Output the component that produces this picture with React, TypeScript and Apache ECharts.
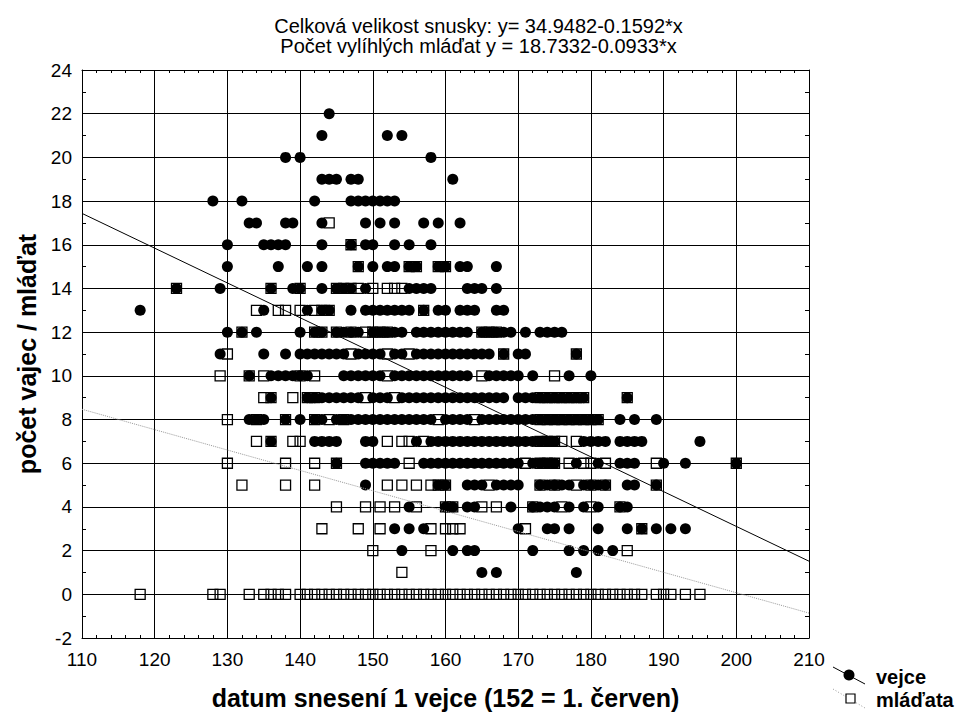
import React, { useEffect, useRef } from "react";
import * as echarts from "echarts";

const FONT = "'Liberation Sans', Arial, sans-serif";

const titleLines = [
  "Celková velikost snusky: y= 34.9482-0.1592*x",
  "Počet vylíhlých mláďat y = 18.7332-0.0933*x",
];
const xAxisTitle = "datum snesení 1 vejce (152 = 1. červen)";
const yAxisTitle = "počet vajec / mláďat";
const legendNames = ["vejce", "mláďata"];

const xRange = { min: 110, max: 210, interval: 10 };
const yRange = { min: -2, max: 24, interval: 2 };

// regression coefficients: y = a + b * x
const eggFit = { a: 34.9482, b: -0.1592 };
const chickFit = { a: 18.7332, b: -0.0933 };

// eggs (vejce): [count, days]
const eggRows: [number, number[]][] = [
  [22, [144]],
  [21, [143, 152, 154]],
  [20, [138, 140, 158]],
  [19, [143, 144, 145, 147, 148, 161]],
  [18, [128, 132, 142, 147, 148, 149, 150, 151, 152, 153]],
  [17, [133, 134, 138, 139, 143, 149, 151, 153, 157, 159, 162]],
  [16, [130, 135, 136, 137, 138, 143, 147, 149, 150, 153, 155, 158]],
  [15, [130, 137, 141, 143, 148, 150, 152, 153, 155, 156, 159, 160, 162, 163, 167]],
  [14, [123, 129, 136, 139, 140, 143, 145, 146, 147, 149, 155, 156, 157, 158, 163, 164, 165, 167]],
  [13, [118, 135, 141, 143, 144, 147, 149, 150, 151, 152, 153, 154, 155, 157, 159, 160, 162, 163, 164, 167, 168]],
  [12, [130, 132, 134, 140, 142, 143, 145, 146, 147, 148, 150, 151, 152, 153, 154, 156, 157, 158, 159, 160, 161, 162, 163, 165, 166, 167, 168, 169, 171, 173, 174, 175, 176]],
  [11, [129, 135, 138, 140, 141, 142, 143, 144, 145, 146, 148, 149, 150, 151, 153, 154, 156, 157, 158, 159, 160, 161, 162, 163, 164, 165, 166, 168, 170, 171, 178]],
  [10, [133, 136, 137, 138, 139, 140, 141, 146, 147, 148, 149, 150, 151, 153, 154, 155, 156, 157, 158, 159, 160, 161, 162, 163, 166, 167, 168, 169, 170, 172, 177, 180]],
  [9, [136, 141, 142, 143, 144, 145, 146, 147, 148, 150, 151, 152, 154, 155, 156, 157, 158, 159, 160, 161, 162, 163, 164, 165, 166, 167, 168, 170, 171, 172, 173, 174, 175, 176, 177, 178, 179, 185]],
  [8, [133, 134, 135, 138, 140, 142, 143, 145, 146, 147, 148, 149, 150, 151, 152, 153, 154, 155, 156, 157, 158, 160, 161, 162, 163, 165, 166, 167, 168, 169, 170, 171, 172, 173, 174, 175, 176, 177, 178, 179, 180, 181, 184, 186, 189]],
  [7, [136, 142, 143, 144, 145, 149, 150, 156, 158, 159, 160, 161, 162, 163, 164, 165, 166, 167, 168, 169, 170, 171, 172, 173, 174, 175, 179, 180, 181, 182, 184, 185, 186, 187, 195]],
  [6, [145, 149, 150, 151, 152, 153, 157, 158, 159, 160, 161, 162, 163, 164, 165, 166, 167, 168, 169, 170, 172, 173, 174, 175, 178, 181, 184, 185, 186, 190, 193, 200]],
  [5, [149, 159, 160, 163, 164, 165, 167, 168, 169, 170, 173, 174, 175, 176, 177, 179, 180, 181, 182, 185, 186, 189]],
  [4, [155, 160, 161, 163, 164, 169, 172, 173, 174, 175, 177, 179, 181, 184, 185]],
  [3, [153, 155, 157, 170, 174, 175, 177, 181, 185, 187, 189, 191, 193]],
  [2, [154, 161, 163, 164, 172, 177, 179, 181, 183]],
  [1, [165, 167, 178]],
];

// hatched chicks (mláďata): [count, days]
const chickRows: [number, number[]][] = [
  [17, [144]],
  [16, [147]],
  [15, [148, 155, 156, 159, 160]],
  [14, [123, 136, 140, 145, 146, 147, 148, 150, 152, 153, 154]],
  [13, [134, 137, 138, 140, 142, 143, 144, 157]],
  [12, [132, 142, 143, 145, 147, 149, 150, 151, 152, 165, 166, 167]],
  [11, [130, 147, 152, 155, 168, 178]],
  [10, [129, 133, 135, 140, 142, 152, 165, 175]],
  [9, [135, 136, 139, 141, 142, 149, 153, 173, 174, 175, 176, 177, 178, 179, 185]],
  [8, [130, 134, 138, 142, 144, 146, 159, 164, 173, 174, 175, 176, 177, 178, 179, 180, 181]],
  [7, [134, 136, 139, 140, 152, 154, 155, 157, 173, 174, 175, 176, 178]],
  [6, [130, 138, 142, 145, 155, 171, 173, 174, 175, 177, 179, 180, 182, 189, 200]],
  [5, [132, 138, 142, 152, 154, 156, 158, 159, 160, 166, 173, 175, 178, 180, 182, 189]],
  [4, [145, 149, 151, 153, 156, 160, 161, 165, 167, 172, 176, 180, 184]],
  [3, [143, 148, 151, 158, 160, 161, 162, 171, 187]],
  [2, [150, 158, 185]],
  [1, [154]],
  [0, [118, 128, 129, 133, 135, 136, 137, 138, 140, 141, 142, 143, 144, 145, 146, 147, 148, 149, 150, 151, 152, 153, 154, 155, 156, 157, 158, 159, 160, 161, 162, 163, 164, 165, 166, 167, 168, 169, 170, 171, 172, 173, 174, 175, 176, 177, 178, 179, 180, 181, 182, 183, 184, 185, 186, 187, 189, 190, 191, 193, 195]],
];

const toPoints = (rows: [number, number[]][]) =>
  rows.flatMap(([count, days]) => days.map((d) => [d, count]));

const fitLine = (fit: { a: number; b: number }) => [
  [xRange.min, fit.a + fit.b * xRange.min],
  [xRange.max, fit.a + fit.b * xRange.max],
];

export default function App() {
  const ref = useRef<HTMLDivElement>(null);

  useEffect(() => {
    document.body.style.margin = "0";
    if (!ref.current) return;
    const chart = echarts.init(ref.current, undefined, { renderer: "svg" });

    const axisLine = { show: true, onZero: false, lineStyle: { color: "#000", width: 1 } };
    const axisTick = { show: true, inside: true, length: 4, lineStyle: { color: "#000" } };
    const gridLine = { show: true, lineStyle: { color: "#000", width: 1 } };

    const option: any = {
      animation: false,
      backgroundColor: "#fff",
      textStyle: { fontFamily: FONT },
      title: {
        text: titleLines.join("\n"),
        left: "center",
        top: 11,
        textStyle: {
          fontFamily: FONT,
          fontSize: 20,
          fontWeight: "normal",
          color: "#000",
          lineHeight: 20,
        },
      },
      grid: { left: 82, right: 148, top: 70, bottom: 73, containLabel: false },
      xAxis: [
        {
          type: "value",
          position: "bottom",
          min: xRange.min,
          max: xRange.max,
          interval: xRange.interval,
          axisLine,
          axisTick,
          minorTick: { show: true, splitNumber: 5, length: 3, lineStyle: { color: "#000" } },
          splitLine: gridLine,
          axisLabel: { fontFamily: FONT, fontSize: 19, color: "#000", margin: 12 },
          name: xAxisTitle,
          nameLocation: "middle",
          nameGap: 47,
          nameTextStyle: { fontFamily: FONT, fontSize: 25, fontWeight: "bold", color: "#000" },
        },
        {
          type: "value",
          position: "top",
          min: xRange.min,
          max: xRange.max,
          interval: xRange.interval,
          axisLine,
          axisTick,
          minorTick: { show: true, splitNumber: 5, length: 3, lineStyle: { color: "#000" } },
          splitLine: { show: false },
          axisLabel: { show: false },
        },
      ],
      yAxis: [
        {
          type: "value",
          position: "left",
          min: yRange.min,
          max: yRange.max,
          interval: yRange.interval,
          axisLine,
          axisTick,
          minorTick: { show: true, splitNumber: 2, length: 4, lineStyle: { color: "#000" } },
          splitLine: gridLine,
          axisLabel: { fontFamily: FONT, fontSize: 19, color: "#000", margin: 10 },
          name: yAxisTitle,
          nameLocation: "middle",
          nameGap: 38,
          nameTextStyle: { fontFamily: FONT, fontSize: 25, fontWeight: "bold", color: "#000" },
        },
        {
          type: "value",
          position: "right",
          min: yRange.min,
          max: yRange.max,
          interval: yRange.interval,
          axisLine,
          axisTick,
          minorTick: { show: true, splitNumber: 2, length: 4, lineStyle: { color: "#000" } },
          splitLine: { show: false },
          axisLabel: { show: false },
        },
      ],
      series: [
        {
          name: legendNames[1],
          type: "scatter",
          data: toPoints(chickRows),
          symbol: "rect",
          symbolSize: 10,
          itemStyle: { color: "rgba(0,0,0,0)", borderColor: "#000", borderWidth: 1.3, opacity: 1 },
          z: 2,
        },
        {
          name: legendNames[0],
          type: "scatter",
          data: toPoints(eggRows),
          symbol: "circle",
          symbolSize: 11,
          itemStyle: { color: "#000", opacity: 1 },
          z: 3,
        },
        {
          type: "line",
          data: fitLine(eggFit),
          showSymbol: false,
          lineStyle: { color: "#000", width: 1 },
          z: 4,
        },
        {
          type: "line",
          data: fitLine(chickFit),
          showSymbol: false,
          lineStyle: { color: "#999", width: 1, type: "dotted" },
          z: 4,
        },
      ],
      graphic: [
        {
          type: "line",
          shape: { x1: 833, y1: 667, x2: 865, y2: 684 },
          style: { stroke: "#000", lineWidth: 1 },
        },
        { type: "circle", shape: { cx: 849, cy: 675, r: 5.5 }, style: { fill: "#000" } },
        {
          type: "text",
          x: 876,
          y: 677,
          style: {
            text: legendNames[0],
            fontFamily: FONT,
            fontSize: 20,
            fontWeight: "bold",
            fill: "#000",
            verticalAlign: "middle",
          },
        },
        {
          type: "line",
          shape: { x1: 833, y1: 689, x2: 865, y2: 708 },
          style: { stroke: "#999", lineWidth: 1, lineDash: [1, 2] },
        },
        {
          type: "rect",
          shape: { x: 846, y: 694, width: 9, height: 9 },
          style: { fill: "#fff", stroke: "#000", lineWidth: 1.2 },
        },
        {
          type: "text",
          x: 876,
          y: 700,
          style: {
            text: legendNames[1],
            fontFamily: FONT,
            fontSize: 20,
            fontWeight: "bold",
            fill: "#000",
            verticalAlign: "middle",
          },
        },
      ],
    };

    chart.setOption(option);
    return () => chart.dispose();
  }, []);

  return <div ref={ref} style={{ width: 957, height: 715 }} />;
}
